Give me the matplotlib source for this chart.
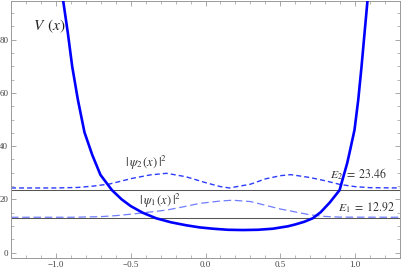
import matplotlib

matplotlib.use("Agg")
import matplotlib.pyplot as plt  # noqa: E402
from matplotlib.ticker import MultipleLocator  # noqa: E402

# potential V(x)
V_X = [-0.955, -0.92, -0.891, -0.853, -0.809, -0.757, -0.702, -0.625, -0.56, -0.50,
       -0.42, -0.33, -0.23, -0.13, -0.04, 0.05, 0.15, 0.25, 0.35, 0.45, 0.55, 0.60,
       0.66, 0.717, 0.77, 0.83, 0.896, 0.947, 0.967, 0.996, 1.021, 1.043, 1.063, 1.085]
V_Y = [96.0, 82.4, 69.9, 57.4, 45.2, 36.7, 29.2, 23.46, 20.0, 17.5,
       15.0, 12.92, 11.4, 10.3, 9.5, 9.0, 8.6, 8.5, 8.6, 9.0, 9.9, 10.6,
       11.6, 12.92, 15.2, 18.8, 23.46, 33.6, 38.6, 46.1, 57.4, 69.9, 82.4, 96.0]

# |psi_2|^2 drawn on top of E2
PSI2_X = [-1.3, -1.0, -0.85, -0.75, -0.64, -0.49, -0.37, -0.26, -0.13, 0.0, 0.1,
          0.16, 0.3, 0.4, 0.5, 0.57, 0.7, 0.8, 0.9, 1.0, 1.1, 1.3]
PSI2_Y = [24.3, 24.3, 24.5, 25.0, 25.8, 27.9, 29.2, 29.8, 28.5, 26.3, 24.8,
          24.3, 25.7, 27.7, 28.9, 29.3, 28.2, 27.0, 25.6, 24.8, 24.4, 24.3]

# |psi_1|^2 drawn on top of E1
PSI1_X = [-1.3, -0.9, -0.71, -0.6, -0.49, -0.38, -0.26, -0.15, -0.04, 0.1, 0.18,
          0.3, 0.4, 0.5, 0.6, 0.7, 0.8, 0.9, 1.3]
PSI1_Y = [13.3, 13.3, 13.5, 13.9, 14.5, 15.2, 16.0, 17.2, 18.5, 19.4, 19.7,
          19.2, 17.8, 16.4, 15.3, 14.2, 13.6, 13.35, 13.3]

E1 = 12.92
E2 = 23.46

X_TICKS = [-1.0, -0.5, 0.0, 0.5, 1.0]
X_LABELS = ["\u22121.0", "\u22120.5", "0.0", "0.5", "1.0"]
Y_TICKS = [0, 20, 40, 60, 80]

plt.rcParams["font.family"] = ["Liberation Serif", "DejaVu Serif"]
plt.rcParams["mathtext.fontset"] = "stix"

fig = plt.figure(figsize=(4.02, 2.70), dpi=100)
ax = fig.add_axes([0.0274, 0.0444, 0.9676, 0.952])

ax.axhline(E2, color="#555555", lw=0.75, zorder=1)
ax.axhline(E1, color="#555555", lw=0.75, zorder=1)
ax.plot(PSI1_X, PSI1_Y, color="#6f7dff", lw=0.9, dashes=(6.0, 3.0), zorder=2)
ax.plot(PSI2_X, PSI2_Y, color="#2b3cff", lw=1.0, dashes=(3.6, 2.2), zorder=2)
ax.plot(V_X, V_Y, color="#0000ff", lw=1.9, solid_joinstyle="round", zorder=3)

ax.text(-1.043, 84.8, r"$V\ \,(x)$", fontsize=11, ha="center", va="center", color="#222222")
ax.text(-0.398, 33.8, r"$|\,\psi_2\,(x)\,|^2$", fontsize=9, ha="center", va="center", color="#333333")
ax.text(-0.307, 19.4, r"$|\,\psi_1\,(x)\,|^2$", fontsize=9, ha="center", va="center", color="#333333")
ax.text(1.024, 29.6, r"$E_2\ =\ 23.46$", fontsize=8.5, ha="center", va="center", color="#333333")
ax.text(1.078, 16.9, r"$E_1\ =\ 12.92$", fontsize=8.5, ha="center", va="center", color="#333333")

ax.set_xlim(-1.3, 1.3)
ax.set_ylim(-2.0, 94.5)
ax.set_xticks(X_TICKS)
ax.set_xticklabels(X_LABELS)
ax.set_yticks(Y_TICKS)
ax.xaxis.set_minor_locator(MultipleLocator(0.1))
ax.yaxis.set_minor_locator(MultipleLocator(5))
ax.tick_params(which="both", direction="in", top=True, right=True, color="#999999",
               labelsize=6.5, labelcolor="#444444", pad=2)
ax.tick_params(which="major", length=3.5, width=0.6)
ax.tick_params(which="minor", length=2.0, width=0.5)
for sp in ax.spines.values():
    sp.set_color("#999999")
    sp.set_linewidth(0.7)

fig.savefig("out.png", dpi=100)
